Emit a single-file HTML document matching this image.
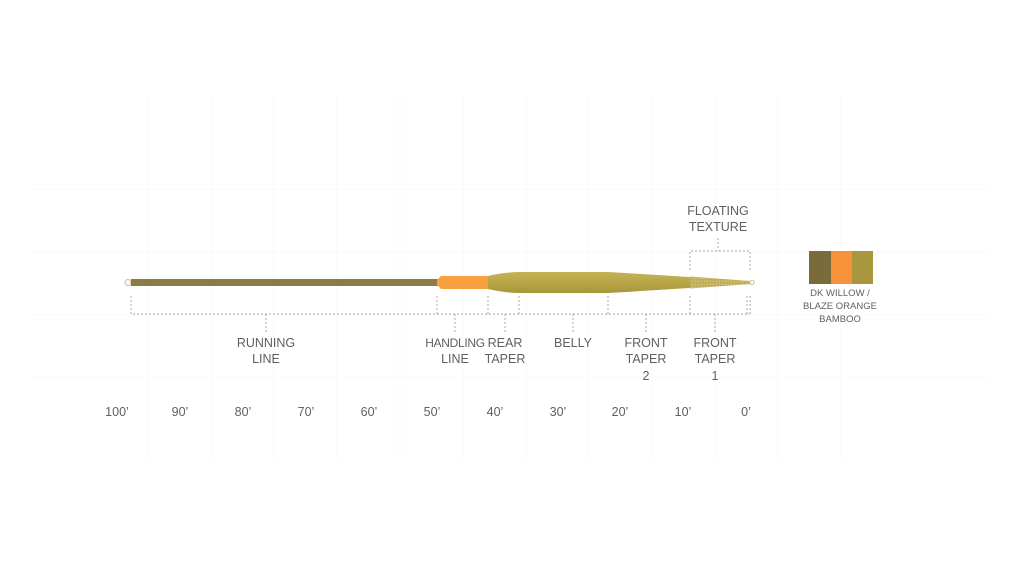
<!DOCTYPE html>
<html><head><style>
html,body{margin:0;padding:0;background:#fff;width:1024px;height:577px;overflow:hidden}
text{font-family:"Liberation Sans",sans-serif;fill:#5f5f5f}
</style></head><body>
<svg width="1024" height="577" viewBox="0 0 1024 577" xmlns="http://www.w3.org/2000/svg">
<defs>
<linearGradient id="g" x1="0" y1="0" x2="0" y2="1"><stop offset="0" stop-color="#c4b256"/><stop offset="0.5" stop-color="#b8a648"/><stop offset="1" stop-color="#a8963c"/></linearGradient>
<pattern id="p" width="3" height="3" patternUnits="userSpaceOnUse"><rect width="3" height="3" fill="#c9b868"/><rect width="1.5" height="1.5" fill="#b3a24e"/></pattern>
</defs>
<g stroke="#f8f8f8" stroke-width="1">
<line x1="148" y1="95" x2="148" y2="460"/><line x1="211" y1="95" x2="211" y2="460"/><line x1="274" y1="95" x2="274" y2="460"/><line x1="337" y1="95" x2="337" y2="460"/><line x1="400" y1="95" x2="400" y2="460"/><line x1="463" y1="95" x2="463" y2="460"/><line x1="526" y1="95" x2="526" y2="460"/><line x1="589" y1="95" x2="589" y2="460"/><line x1="652" y1="95" x2="652" y2="460"/><line x1="715" y1="95" x2="715" y2="460"/><line x1="778" y1="95" x2="778" y2="460"/><line x1="841" y1="95" x2="841" y2="460"/>
<line x1="30" y1="189" x2="990" y2="189"/><line x1="30" y1="252" x2="990" y2="252"/><line x1="30" y1="315" x2="990" y2="315"/><line x1="30" y1="378" x2="990" y2="378"/>
</g>
<circle cx="128" cy="282.5" r="3" fill="#fff" stroke="#c9bb8a"/>
<rect x="131" y="279" width="307" height="7" fill="#8a7c44"/>
<path d="M441 276 L488 276 L488 289 L441 289 L437 285 L437 280 Z" fill="#f9a040"/>
<path d="M488 276 Q505 272 520 272 L608 272 Q660 275 750 281 L750 284 Q660 290 608 293 L520 293 Q505 293 488 289 Z" fill="url(#g)"/>
<path d="M690 276.5 L750 281 L750 284 L690 288.5 Z" fill="url(#p)"/>
<circle cx="752" cy="282.5" r="2.2" fill="#fff" stroke="#c9bb8a"/>
<g stroke="#aaa" stroke-width="1" stroke-dasharray="2,2" fill="none">
<path d="M131 296 V314 H750"/>
<line x1="437" y1="296" x2="437" y2="314"/><line x1="488" y1="296" x2="488" y2="314"/><line x1="519" y1="296" x2="519" y2="314"/><line x1="608" y1="296" x2="608" y2="314"/><line x1="690" y1="296" x2="690" y2="314"/><line x1="747" y1="296" x2="747" y2="314"/><line x1="750" y1="296" x2="750" y2="314"/>
<line x1="266" y1="314" x2="266" y2="332"/><line x1="455" y1="314" x2="455" y2="332"/><line x1="505" y1="314" x2="505" y2="332"/><line x1="573" y1="314" x2="573" y2="332"/><line x1="646" y1="314" x2="646" y2="332"/><line x1="715" y1="314" x2="715" y2="332"/>
<path d="M690 270 V251 H750 V270"/><line x1="718" y1="238" x2="718" y2="251"/>
</g>
<g font-size="12.5" text-anchor="middle">
<text x="266" y="347">RUNNING</text><text x="266" y="363">LINE</text>
<text x="455" y="347" font-size="12" letter-spacing="-0.3">HANDLING</text><text x="455" y="363">LINE</text>
<text x="505" y="347">REAR</text><text x="505" y="363">TAPER</text>
<text x="573" y="347">BELLY</text>
<text x="646" y="347">FRONT</text><text x="646" y="363">TAPER</text><text x="646" y="380">2</text>
<text x="715" y="347">FRONT</text><text x="715" y="363">TAPER</text><text x="715" y="380">1</text>
<text x="718" y="215">FLOATING</text><text x="718" y="231">TEXTURE</text>
<text x="117" y="416">100’</text><text x="180" y="416">90’</text><text x="243" y="416">80’</text><text x="306" y="416">70’</text><text x="369" y="416">60’</text><text x="432" y="416">50’</text><text x="495" y="416">40’</text><text x="558" y="416">30’</text><text x="620" y="416">20’</text><text x="683" y="416">10’</text><text x="746" y="416">0’</text>
</g>
<rect x="809" y="251" width="22" height="33" fill="#7a6c3a"/>
<rect x="831" y="251" width="21" height="33" fill="#f7923a"/>
<rect x="852" y="251" width="21" height="33" fill="#a8973e"/>
<g font-size="9.5" text-anchor="middle">
<text x="840" y="296">DK WILLOW /</text><text x="840" y="309">BLAZE ORANGE</text><text x="840" y="322">BAMBOO</text>
</g>
</svg>
</body></html>
